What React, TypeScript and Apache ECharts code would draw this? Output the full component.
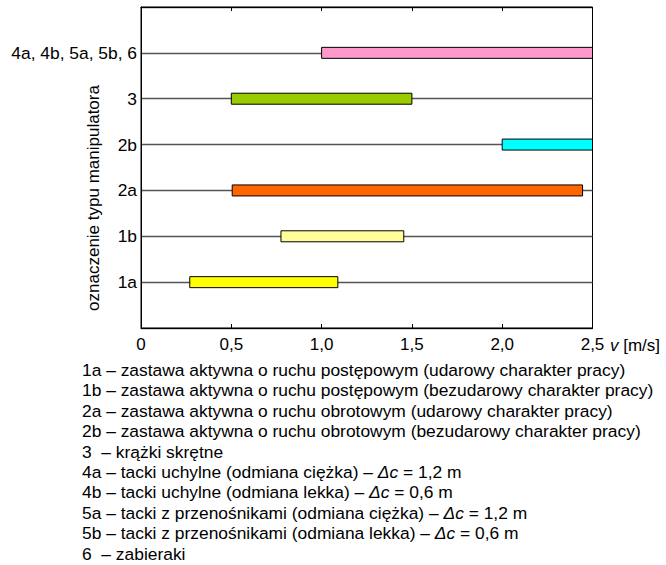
import React, { useEffect, useRef } from "react";
import * as echarts from "echarts";

const categories = ["1a", "1b", "2a", "2b", "3", "4a, 4b, 5a, 5b, 6"];
const startValues = [0.27, 0.775, 0.505, 2.0, 0.5, 1.0];
const endValues = [1.09, 1.455, 2.445, 2.5, 1.5, 2.5];
const barColors = ["#ffff00", "#ffff99", "#ff6600", "#00ffff", "#99cc00", "#ff99cc"];
const xTicks = [0, 0.5, 1.0, 1.5, 2.0, 2.5];
const legendLines = [
  "1a – zastawa aktywna o ruchu postępowym (udarowy charakter pracy)",
  "1b – zastawa aktywna o ruchu postępowym (bezudarowy charakter pracy)",
  "2a – zastawa aktywna o ruchu obrotowym (udarowy charakter pracy)",
  "2b – zastawa aktywna o ruchu obrotowym (bezudarowy charakter pracy)",
  "3  – krążki skrętne",
  "4a – tacki uchylne (odmiana ciężka) – {i|Δc} = 1,2 m",
  "4b – tacki uchylne (odmiana lekka) – {i|Δc} = 0,6 m",
  "5a – tacki z przenośnikami (odmiana ciężka) – {i|Δc} = 1,2 m",
  "5b – tacki z przenośnikami (odmiana lekka) – {i|Δc} = 0,6 m",
  "6  – zabieraki",
];

const FONT = "'Liberation Sans', Arial, sans-serif";
const FS = 17;
const LFS = 17.4;

export default function App() {
  const ref = useRef<HTMLDivElement>(null);
  useEffect(() => {
    if (!ref.current) return;
    const chart = echarts.init(ref.current, null, { renderer: "svg" });
    const fmt = (v: number) => (v === 0 ? "0" : v.toFixed(1).replace(".", ","));
    const data = categories.map((c, i) => [startValues[i], endValues[i], i + 1, i]);
    const legendGraphics = legendLines.map((t, i) => ({
      type: "text",
      x: 82,
      y: 370 + i * 20.4,
      style: {
        text: t,
        fontFamily: FONT,
        fontSize: LFS,
        fill: "#000",
        verticalAlign: "middle",
        rich: { i: { fontStyle: "italic", fontFamily: FONT, fontSize: LFS, fill: "#000" } },
      },
    }));
    chart.setOption({
      animation: false,
      textStyle: { fontFamily: FONT },
      grid: {
        left: 141,
        right: 73.5,
        top: 7,
        bottom: 237,
        show: true,
        borderColor: "#000",
        borderWidth: 1,
        backgroundColor: "transparent",
      },
      xAxis: [
        {
          type: "value",
          position: "bottom",
          min: 0,
          max: 2.5,
          interval: 0.5,
          axisLine: { show: true, lineStyle: { color: "#000", width: 1 } },
          axisTick: { show: true, inside: true, length: 4, lineStyle: { color: "#000" } },
          axisLabel: {
            color: "#000",
            fontSize: FS,
            fontFamily: FONT,
            margin: 8,
            formatter: (v: number) => (xTicks.includes(v) ? fmt(v) : ""),
          },
          splitLine: { show: false },
        },
        {
          type: "value",
          position: "top",
          min: 0,
          max: 2.5,
          interval: 0.5,
          axisLine: { show: true, lineStyle: { color: "#000", width: 1 } },
          axisTick: { show: true, inside: true, length: 4, lineStyle: { color: "#000" } },
          axisLabel: { show: false },
          splitLine: { show: false },
        },
      ],
      yAxis: {
        type: "value",
        min: 0,
        max: 7,
        interval: 1,
        axisLine: { show: true, lineStyle: { color: "#000" } },
        axisTick: { show: false },
        axisLabel: {
          color: "#000",
          fontSize: LFS,
          fontFamily: FONT,
          margin: 4,
          formatter: (v: number) => categories[v - 1] ?? "",
        },
        splitLine: { show: true, lineStyle: { color: "#555", width: 1.3 } },
      },
      graphic: [
        {
          type: "text",
          x: 93,
          y: 198,
          rotation: Math.PI / 2,
          style: {
            text: "oznaczenie typu manipulatora",
            fontFamily: FONT,
            fontSize: 17,
            fill: "#000",
            align: "center",
            verticalAlign: "middle",
          },
        },
        {
          type: "text",
          x: 610,
          y: 345,
          style: {
            text: "{i|v} [m/s]",
            fontFamily: FONT,
            fontSize: FS,
            fill: "#000",
            verticalAlign: "middle",
            rich: { i: { fontStyle: "italic", fontFamily: FONT, fontSize: FS, fill: "#000" } },
          },
        },
        ...legendGraphics,
      ],
      series: [
        {
          type: "custom",
          xAxisIndex: 0,
          data,
          encode: { x: [0, 1], y: 2 },
          renderItem: (params: any, api: any) => {
            const s = api.coord([api.value(0), api.value(2)]);
            const e = api.coord([api.value(1), api.value(2)]);
            const idx = api.value(3);
            return {
              type: "rect",
              shape: { x: s[0], y: s[1] - 5.5, width: e[0] - s[0], height: 11 },
              style: { fill: barColors[idx], stroke: "#000", lineWidth: 1 },
            };
          },
        },
      ],
    });
    return () => chart.dispose();
  }, []);
  return (
    <div
      ref={ref}
      style={{ position: "fixed", left: 0, top: 0, width: 666, height: 565, background: "#fff" }}
    />
  );
}
